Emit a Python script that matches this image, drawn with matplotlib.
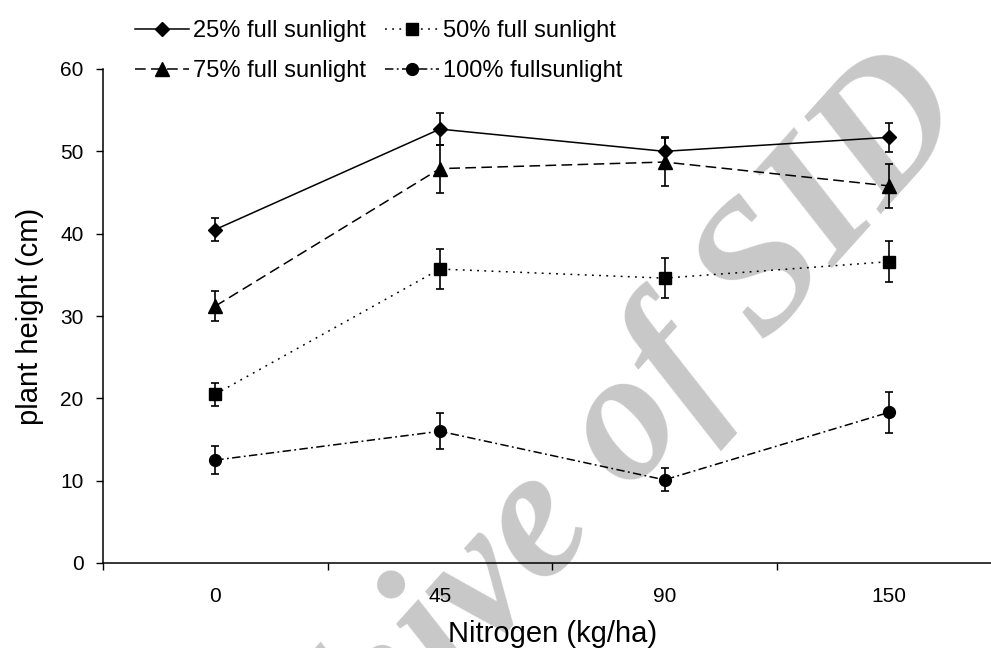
import matplotlib
matplotlib.use('Agg')
import matplotlib.pyplot as plt

plt.rcParams['font.family'] = ['Liberation Sans', 'DejaVu Sans']

nitrogen = ['0', '45', '90', '150']

sun25 = [40.5, 52.7, 50.0, 51.7]
sun25_err = [1.4, 1.9, 1.7, 1.8]
sun50 = [20.5, 35.7, 34.6, 36.6]
sun50_err = [1.4, 2.4, 2.4, 2.5]
sun75 = [31.2, 47.9, 48.7, 45.8]
sun75_err = [1.8, 2.9, 2.9, 2.7]
sun100 = [12.5, 16.0, 10.1, 18.3]
sun100_err = [1.7, 2.2, 1.4, 2.5]

labels = ['25% full sunlight', '50% full sunlight', '75% full sunlight', '100% fullsunlight']

series = [
    (sun25, sun25_err, 'D', 7, '-'),
    (sun50, sun50_err, 's', 8, (0, (1.2, 3.5))),
    (sun75, sun75_err, '^', 10, (0, (7, 3.5))),
    (sun100, sun100_err, 'o', 8.5, (0, (5.5, 2.2, 1.2, 2.2))),
]

fig = plt.figure(figsize=(9.91, 6.48), dpi=100)
ax = fig.add_axes([103/991, 85/648, 898.4/991, 494/648])
ax.patch.set_alpha(0)

# grey watermark behind the plot
fig.text(0.56, 0.198, 'Archive of SID', family='Liberation Serif', style='italic',
         weight='bold', fontsize=134, color='#c8c8c8', rotation=48,
         rotation_mode='anchor', ha='center', va='center', zorder=-1)

x = list(range(len(nitrogen)))
handles = []
for (vals, err, mk, ms, ls), lab in zip(series, labels):
    ax.errorbar(x, vals, yerr=err, fmt='none', ecolor='black', elinewidth=1.2,
                capsize=3, capthick=1.2, zorder=3)
    ln, = ax.plot(x, vals, color='black', linestyle=ls, linewidth=1.1,
                  marker=mk, markersize=ms, markerfacecolor='black',
                  markeredgecolor='black', zorder=4, label=lab)
    handles.append(ln)

ax.set_xlim(-0.5, 3.5)
ax.set_ylim(0, 60)
ax.set_yticks(range(0, 61, 10))
ax.set_xticks(x)
ax.set_xticklabels(nitrogen)
ax.set_xticks([-0.5, 0.5, 1.5, 2.5, 3.5], minor=True)
ax.tick_params(axis='x', which='major', length=0, pad=17, labelsize=15)
ax.tick_params(axis='x', which='minor', length=5, width=1, direction='out')
ax.tick_params(axis='y', length=5, width=1, direction='out', pad=9, labelsize=15)
for s in ['top', 'right']:
    ax.spines[s].set_visible(False)
for s in ['left', 'bottom']:
    ax.spines[s].set_linewidth(1.1)

ax.set_xlabel('Nitrogen (kg/ha)', fontsize=21, labelpad=10.5)
ax.set_ylabel('plant height (cm)', fontsize=21, labelpad=12)

order = [handles[0], handles[2], handles[1], handles[3]]
fig.legend(order, [h.get_label() for h in order], ncol=2, frameon=False,
           fontsize=17, loc='upper left', bbox_to_anchor=(115/991, 1.0),
           handlelength=2.3, handletextpad=0.15, columnspacing=0.8,
           labelspacing=0.75, borderaxespad=0.45)

fig.savefig('out.png', dpi=100)
